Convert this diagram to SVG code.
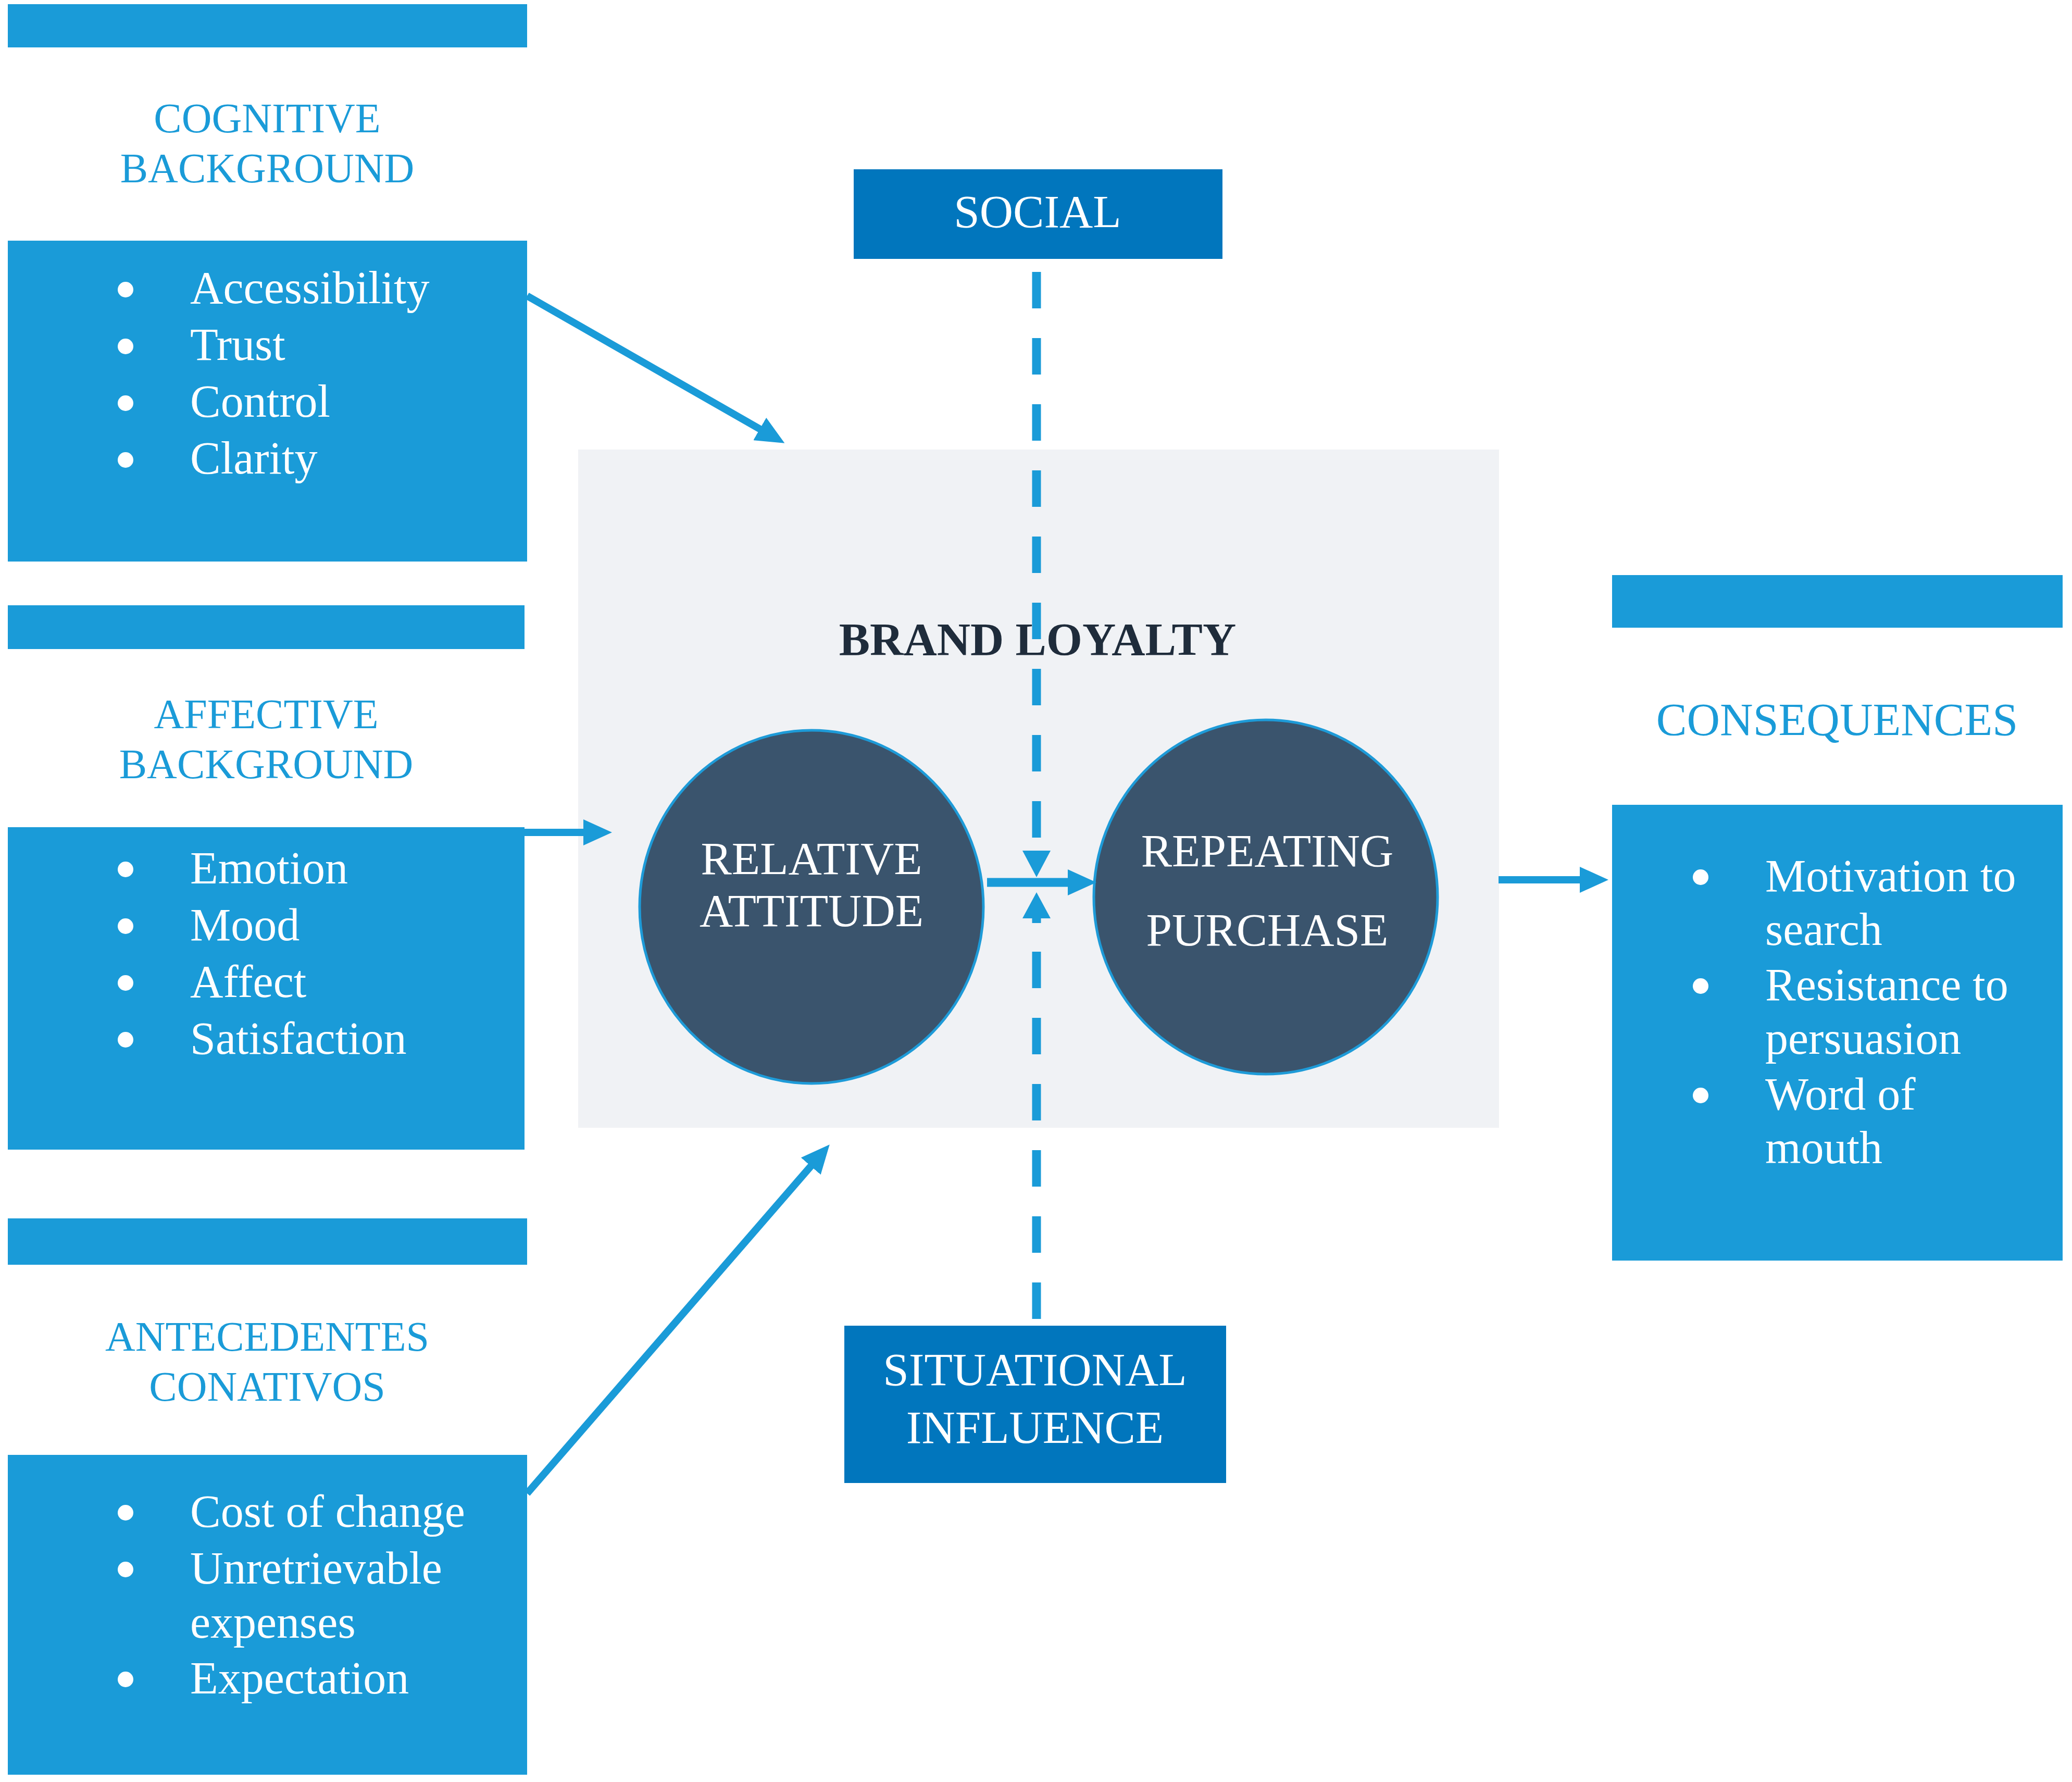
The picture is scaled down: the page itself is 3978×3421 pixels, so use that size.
<svg xmlns="http://www.w3.org/2000/svg" width="3978" height="3421" viewBox="0 0 3978 3421">
<style>
.bar{fill:#1A9BD8}
.body{fill:#1A9BD8}
.title{font-family:"Liberation Serif","Times New Roman",serif;font-size:80px;fill:#1A9BD8;text-anchor:middle}
.item{font-family:"Liberation Serif","Times New Roman",serif;font-size:88px;fill:#FFFFFF}
.dot{fill:#FFFFFF}
.dark{fill:#0176BD}
.wt{font-family:"Liberation Serif","Times New Roman",serif;font-size:89px;fill:#FFFFFF;text-anchor:middle}
.circ{fill:#3A546D;stroke:#1E9BD8;stroke-width:5}
.conn{stroke:#1A9BD8;stroke-width:14;fill:none}
.dash{stroke:#1A9BD8;stroke-width:17;fill:none;stroke-dasharray:70 57}
.head{fill:#1A9BD8}
</style>
<defs>
<marker id="ah" viewBox="0 0 55 50" refX="5" refY="25" markerWidth="55" markerHeight="50" markerUnits="userSpaceOnUse" orient="auto">
<path d="M0,0 L55,25 L0,50 z" fill="#1A9BD8"/>
</marker>
</defs>
<rect x="0" y="0" width="3978" height="3421" fill="#FFFFFF"/>

<g id="brand-loyalty">
<rect x="1110" y="863" width="1768" height="1302" fill="#F0F2F5"/>
<text x="1992" y="1257" style="font-family:'Liberation Serif','Times New Roman',serif;font-size:89px;font-weight:bold;fill:#1F2C3B" text-anchor="middle">BRAND LOYALTY</text>
</g>

<g id="cognitive">
<rect class="bar" x="15" y="8" width="997" height="83"/>
<rect class="body" x="15" y="462" width="997" height="616"/>
<text class="title" x="513" y="254">COGNITIVE</text>
<text class="title" x="513" y="350">BACKGROUND</text>
<circle class="dot" cx="241" cy="556" r="15"/>
<circle class="dot" cx="241" cy="665" r="15"/>
<circle class="dot" cx="241" cy="774" r="15"/>
<circle class="dot" cx="241" cy="883" r="15"/>
<text class="item" x="365" y="582">Accessibility</text>
<text class="item" x="365" y="691">Trust</text>
<text class="item" x="365" y="800">Control</text>
<text class="item" x="365" y="909">Clarity</text>
</g>

<g id="affective">
<rect class="bar" x="15" y="1162" width="992" height="84"/>
<rect class="body" x="15" y="1588" width="992" height="619"/>
<text class="title" x="511" y="1398">AFFECTIVE</text>
<text class="title" x="511" y="1494">BACKGROUND</text>
<circle class="dot" cx="241" cy="1669" r="15"/>
<circle class="dot" cx="241" cy="1778" r="15"/>
<circle class="dot" cx="241" cy="1887" r="15"/>
<circle class="dot" cx="241" cy="1996" r="15"/>
<text class="item" x="365" y="1696">Emotion</text>
<text class="item" x="365" y="1805">Mood</text>
<text class="item" x="365" y="1914">Affect</text>
<text class="item" x="365" y="2023">Satisfaction</text>
</g>

<g id="antecedentes">
<rect class="bar" x="15" y="2339" width="997" height="89"/>
<rect class="body" x="15" y="2793" width="997" height="614"/>
<text class="title" x="513" y="2593">ANTECEDENTES</text>
<text class="title" x="513" y="2689">CONATIVOS</text>
<circle class="dot" cx="241" cy="2904" r="15"/>
<circle class="dot" cx="241" cy="3013" r="15"/>
<circle class="dot" cx="241" cy="3224" r="15"/>
<text class="item" x="365" y="2931">Cost of change</text>
<text class="item" x="365" y="3040">Unretrievable</text>
<text class="item" x="365" y="3144">expenses</text>
<text class="item" x="365" y="3251">Expectation</text>
</g>

<g id="consequences">
<rect class="bar" x="3095" y="1104" width="865" height="101"/>
<rect class="body" x="3095" y="1545" width="865" height="875"/>
<text class="title" x="3527" y="1411" style="font-size:88px">CONSEQUENCES</text>
<circle class="dot" cx="3265" cy="1684" r="15"/>
<circle class="dot" cx="3265" cy="1893" r="15"/>
<circle class="dot" cx="3265" cy="2103" r="15"/>
<text class="item" x="3389" y="1711">Motivation to</text>
<text class="item" x="3389" y="1814">search</text>
<text class="item" x="3389" y="1920">Resistance to</text>
<text class="item" x="3389" y="2023">persuasion</text>
<text class="item" x="3389" y="2130">Word of</text>
<text class="item" x="3389" y="2233">mouth</text>
</g>

<g id="social">
<rect class="dark" x="1639" y="325" width="708" height="172"/>
<text class="wt" x="1992" y="436">SOCIAL</text>
</g>

<g id="situational">
<rect class="dark" x="1621" y="2545" width="733" height="302"/>
<text class="wt" x="1987" y="2659">SITUATIONAL</text>
<text class="wt" x="1987" y="2770">INFLUENCE</text>
</g>

<g id="relative-attitude">
<ellipse class="circ" cx="1558" cy="1741" rx="330" ry="339"/>
<text class="wt" x="1558" y="1678">RELATIVE</text>
<text class="wt" x="1558" y="1778">ATTITUDE</text>
</g>

<g id="repeating-purchase">
<ellipse class="circ" cx="2430" cy="1722" rx="330" ry="340"/>
<text class="wt" x="2433" y="1663">REPEATING</text>
<text class="wt" x="2433" y="1815">PURCHASE</text>
</g>

<g id="connectors">
<line class="conn" x1="1012" y1="568" x2="1463" y2="826" marker-end="url(#ah)"/>
<line class="conn" x1="1007" y1="1598" x2="1125" y2="1598" marker-end="url(#ah)"/>
<line class="conn" x1="1012" y1="2867" x2="1560" y2="2235" marker-end="url(#ah)"/>
<line class="conn" x1="2877" y1="1689" x2="3038" y2="1689" marker-end="url(#ah)"/>
<line class="conn" style="stroke-width:17" x1="1895" y1="1694" x2="2055" y2="1694" marker-end="url(#ah)"/>
<line class="dash" x1="1990" y1="522" x2="1990" y2="1608"/>
<polygon class="head" points="1963,1633 2017,1633 1990,1684"/>
<polygon class="head" points="1990,1713 2017,1763 1963,1763"/>
<line class="dash" style="stroke-dasharray:none" x1="1990" y1="1760" x2="1990" y2="1772"/>
<line class="dash" x1="1990" y1="1827" x2="1990" y2="2532"/>
</g>
</svg>
